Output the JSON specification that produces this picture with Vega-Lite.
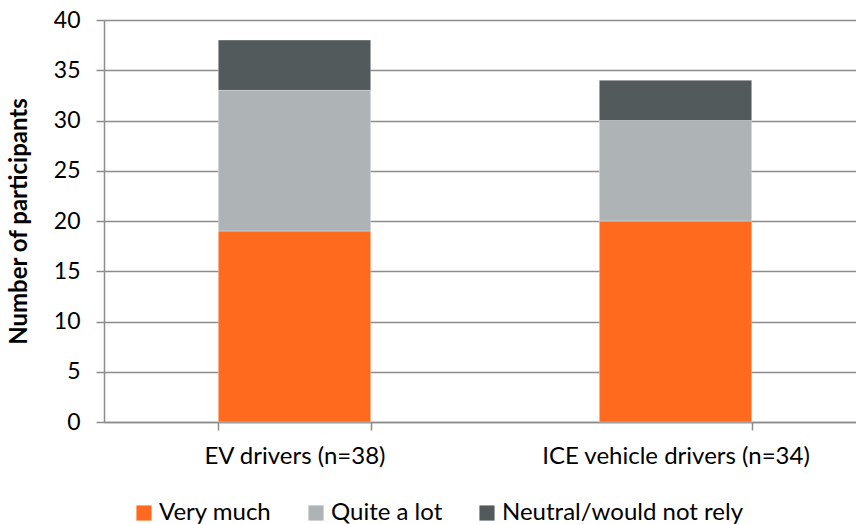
{
  "$schema": "https://vega.github.io/schema/vega-lite/v6.json",
  "autosize": "none",
  "padding": {"left": 104, "top": 20, "right": 0, "bottom": 102},
  "width": 762,
  "height": 402,
  "background": "white",
  "config": {
    "font": "Lato",
    "view": {"stroke": null}
  },
  "data": {
    "values": [
      {"group": "EV drivers (n=38)", "response": "Very much", "order": 1, "count": 19},
      {"group": "EV drivers (n=38)", "response": "Quite a lot", "order": 2, "count": 14},
      {"group": "EV drivers (n=38)", "response": "Neutral/would not rely", "order": 3, "count": 5},
      {"group": "ICE vehicle drivers (n=34)", "response": "Very much", "order": 1, "count": 20},
      {"group": "ICE vehicle drivers (n=34)", "response": "Quite a lot", "order": 2, "count": 10},
      {"group": "ICE vehicle drivers (n=34)", "response": "Neutral/would not rely", "order": 3, "count": 4}
    ]
  },
  "mark": {"type": "bar", "stroke": "#ffffff", "strokeOpacity": 0.3, "strokeWidth": 1},
  "encoding": {
    "x": {
      "field": "group",
      "type": "nominal",
      "sort": null,
      "scale": {"paddingInner": 0.6, "paddingOuter": 0.3},
      "axis": {
        "title": null,
        "labelAngle": 0,
        "labelFontSize": 24,
        "labelColor": "#000000",
        "labelPadding": 14,
        "labelLimit": 500,
        "tickBand": "extent",
        "tickSize": 8,
        "tickColor": "#8c8c8c",
        "domainColor": "#8c8c8c",
        "domainWidth": 1.5,
        "tickWidth": 1.5
      }
    },
    "y": {
      "field": "count",
      "type": "quantitative",
      "stack": "zero",
      "scale": {"domain": [0, 40]},
      "axis": {
        "title": "Number of participants",
        "titleFontSize": 24,
        "titleFontWeight": "bold",
        "titleColor": "#000000",
        "titlePadding": 22,
        "values": [0, 5, 10, 15, 20, 25, 30, 35, 40],
        "labelFontSize": 23,
        "labelColor": "#000000",
        "labelPadding": 16,
        "tickSize": 8,
        "tickColor": "#8c8c8c",
        "tickWidth": 1.5,
        "domainColor": "#8c8c8c",
        "domainWidth": 1.5,
        "grid": true,
        "gridColor": "#8c8c8c",
        "gridWidth": 1.5
      }
    },
    "color": {
      "field": "response",
      "type": "nominal",
      "sort": ["Very much", "Quite a lot", "Neutral/would not rely"],
      "scale": {
        "domain": ["Very much", "Quite a lot", "Neutral/would not rely"],
        "range": ["#FF6A1E", "#AEB4B6", "#525A5C"]
      },
      "legend": {
        "title": null,
        "orient": "none",
        "direction": "horizontal",
        "legendX": 28,
        "legendY": 481,
        "symbolType": "square",
        "symbolSize": 230,
        "symbolStrokeWidth": 0,
        "labelFontSize": 24,
        "labelColor": "#000000",
        "labelOffset": 3,
        "columnPadding": 32,
        "labelLimit": 400
      }
    },
    "order": {"field": "order", "type": "quantitative"}
  }
}
